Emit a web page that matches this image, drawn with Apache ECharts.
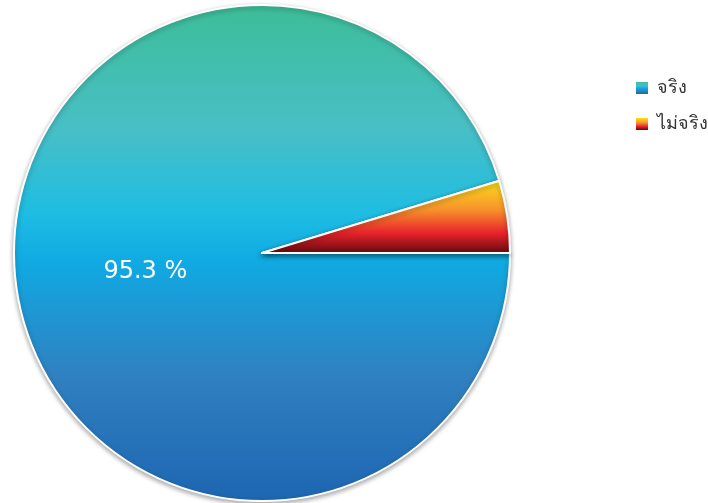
<!DOCTYPE html>
<html>
<head>
<meta charset="utf-8">
<script src="https://cdn.jsdelivr.net/npm/echarts@6/dist/echarts.min.js"></script>
<style>
html,body{margin:0;padding:0;background:#fff;}
#c{width:708px;height:503px;}
</style>
</head>
<body>
<div id="c"></div>
<script>
var categories = ['จริง', 'ไม่จริง'];
var values = [95.3, 4.7];

var gradients = [
  [[0, '#3dbd98'], [0.25, '#48bfc6'], [0.42, '#1ebde2'], [0.52, '#10a9e2'], [0.75, '#3080c0'], [1, '#1d66b2']],
  [[0, '#fbe01a'], [0.4, '#f7932c'], [0.72, '#e8222a'], [1, '#5e0a0e']]
];

function grad(stops) {
  return new echarts.graphic.LinearGradient(0, 0, 0, 1,
    stops.map(function (s) { return { offset: s[0], color: s[1] }; }));
}

var chart = echarts.init(document.getElementById('c'));
chart.setOption({
  animation: false,
  legend: {
    orient: 'vertical',
    left: 636,
    top: 79,
    padding: 0,
    itemWidth: 12,
    itemHeight: 12,
    itemGap: 18,
    itemStyle: { borderWidth: 0 },
    icon: 'rect',
    textStyle: { fontSize: 18, color: '#333', fontFamily: 'sans-serif', padding: [0, 0, 0, 4] },
    data: categories
  },
  series: [{
    type: 'pie',
    center: [262, 253],
    radius: [0, 248],
    startAngle: 0,
    clockwise: true,
    label: {
      show: true,
      position: 'inside',
      color: '#fff',
      fontSize: 24,
      fontFamily: 'DejaVu Sans, sans-serif',
      offset: [9, 0],
      formatter: function (p) { return p.dataIndex === 0 ? p.value + ' %' : ''; }
    },
    labelLine: { show: false },
    itemStyle: {
      borderColor: '#fff',
      borderWidth: 2,
      shadowColor: 'rgba(0,0,0,0.35)',
      shadowBlur: 5,
      shadowOffsetY: 2
    },
    data: categories.map(function (c, i) {
      return { name: c, value: values[i], itemStyle: { color: grad(gradients[i]) } };
    })
  }]
});
</script>
</body>
</html>
